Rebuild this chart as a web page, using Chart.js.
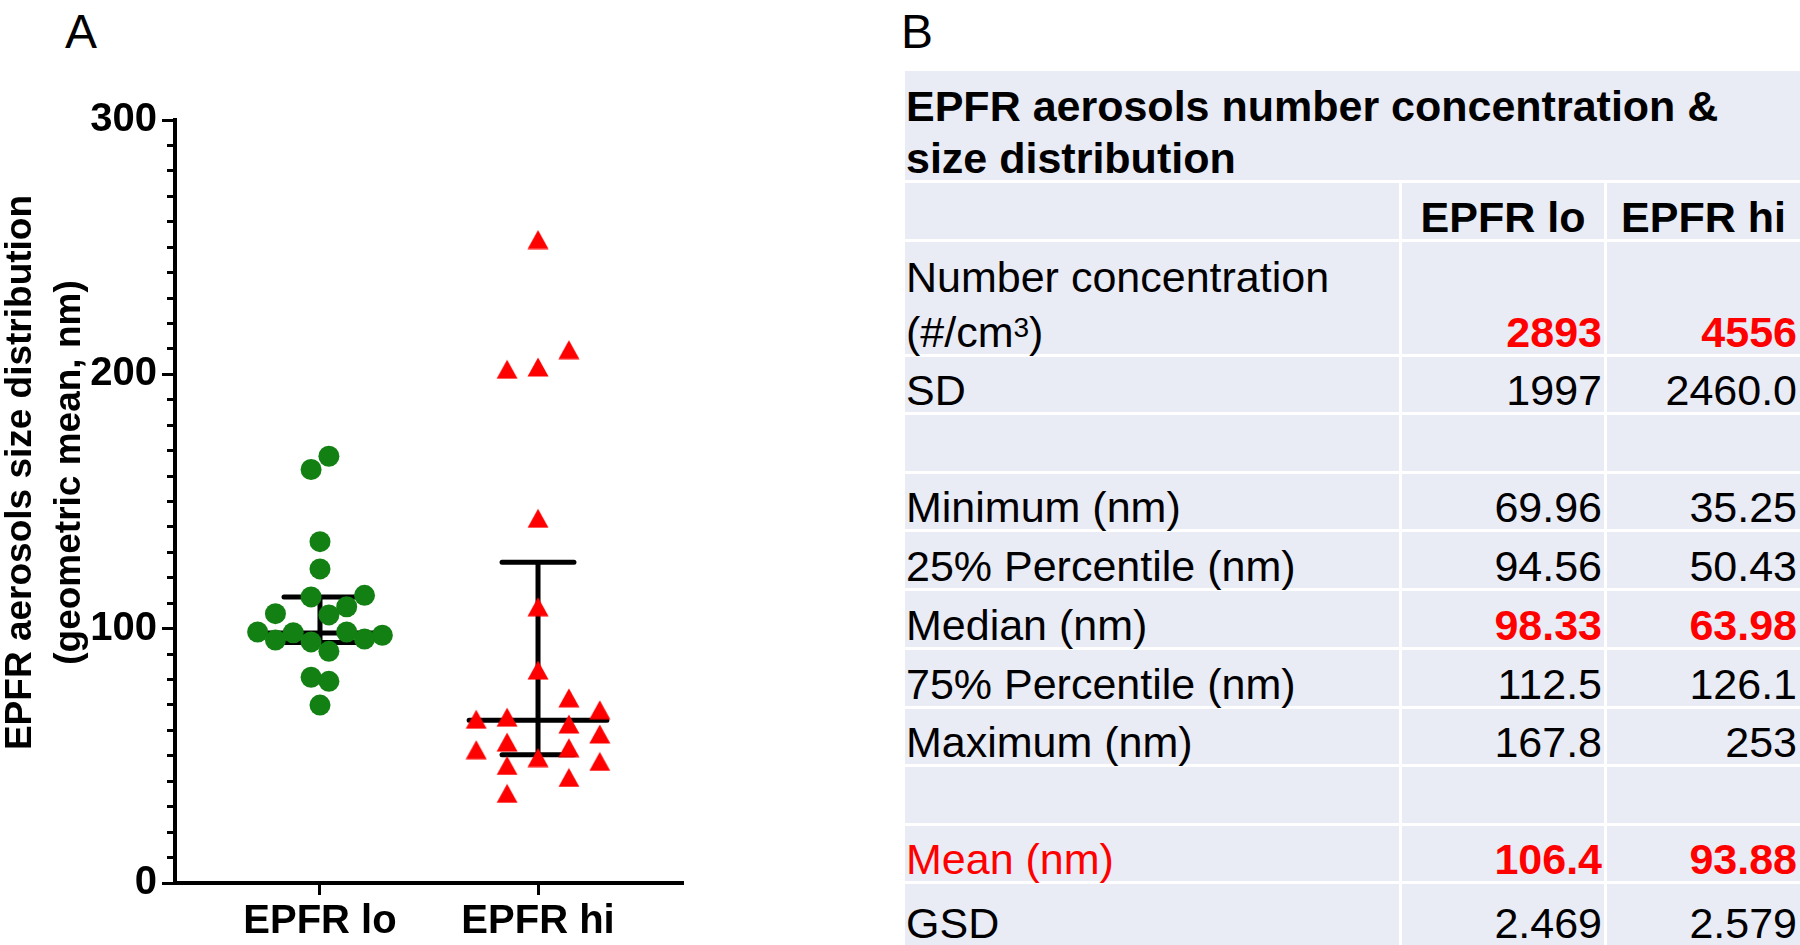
<!DOCTYPE html>
<html>
<head>
<meta charset="utf-8">
<script src="https://cdn.jsdelivr.net/npm/chart.js@4.4.1/dist/chart.umd.min.js"></script>
<style>
  body { margin: 0; background: #fff; width: 1800px; height: 945px; overflow: hidden; position: relative;
         font-family: "Liberation Sans", Arial, sans-serif; }
  .panel { position: absolute; top: 8px; font-size: 48px; line-height: 1; }
  #chart { position: absolute; left: 0; top: 0; }
  .cell { position: absolute; background: #e9ebf5; display: flex; align-items: flex-end; box-sizing: border-box;
          font-size: 43px; line-height: 1; color: #000; white-space: nowrap; }
  .lbl { padding-left: 1px; }
  .val { justify-content: flex-end; }
  .c2 { padding-right: 2px; }
  .c3 { padding-right: 3px; }
  .head { justify-content: center; font-weight: bold; }
  .hot { color: #ff0000; font-weight: bold; }
  .sup { font-size: 28px; position: relative; top: -10px; }
</style>
</head>
<body>
<div class="panel" style="left:65px">A</div>
<div class="panel" style="left:901px">B</div>
<canvas id="chart" width="700" height="945"></canvas>

<script>
// ---- panel A data ----
const groups = ['EPFR lo', 'EPFR hi'];

// EPFR lo (green circles), jitter in dot widths
const loValues = [167.8, 162.6, 134.2, 123.5, 112.5, 113.1, 108.6, 105.9, 105.4, 98.7,
                  98.4, 98.7, 97.4, 95.5, 94.8, 95.9, 91.1, 80.9, 79.3, 69.96];
const loJitter = [0.5, -0.5, 0, 0, -0.5, 2.5, 1.5, -2.5, 0.5, -3.5,
                  -1.5, 1.5, 3.5, -2.5, -0.5, 2.5, 0.5, -0.5, 0.5, 0];

// EPFR hi (red triangles)
const hiValues = [253, 209.7, 202.9, 202, 143.4, 108.6, 83.7, 72.8, 68.1, 65.2, 64.4,
                  62.5, 58.6, 55.4, 53.2, 52.4, 49.3, 47.8, 46.2, 41.5, 35.25];
const hiJitter = [0, 1, 0, -1, 0, 0, 0, 1, 2, -1, -2,
                  1, 2, -1, 1, -2, 0, 2, -1, 1, -1];

// median with interquartile range
const medians = [98.33, 63.98];
const q1 = [94.56, 50.43];
const q3 = [112.5, 126.1];

// ---- panel B data ----
const statLabels = ['Number concentration', 'SD', '', 'Minimum (nm)', '25% Percentile (nm)', 'Median (nm)',
                    '75% Percentile (nm)', 'Maximum (nm)', '', 'Mean (nm)', 'GSD'];
const statLo = ['2893', '1997', '', '69.96', '94.56', '98.33', '112.5', '167.8', '', '106.4', '2.469'];
const statHi = ['4556', '2460.0', '', '35.25', '50.43', '63.98', '126.1', '253', '', '93.88', '2.579'];
const hotRows = [0, 5, 9];

// ---- table ----
const cols = [[905, 1399], [1402, 1604], [1607, 1800]];
const rows = [[71, 180], [183, 239], [242, 354], [357, 411.5], [414.5, 470.5], [473.5, 529], [532, 588],
              [591, 647], [650, 705.5], [708.5, 764], [767, 822.5], [825.5, 881], [884, 945]];

function addCell(x0, x1, y0, y1, html, cls) {
  const d = document.createElement('div');
  d.className = 'cell ' + (cls || '');
  d.style.left = x0 + 'px';
  d.style.width = (x1 - x0) + 'px';
  d.style.top = y0 + 'px';
  d.style.height = (y1 - y0) + 'px';
  d.innerHTML = html;
  document.body.appendChild(d);
}

addCell(cols[0][0], cols[2][1], rows[0][0], rows[0][1],
  '<div style="font-weight:bold;line-height:52px;margin-bottom:-4px">EPFR aerosols number concentration &amp;<br>size distribution</div>', 'lbl');
addCell(cols[0][0], cols[0][1], rows[1][0], rows[1][1], '', 'lbl');
addCell(cols[1][0], cols[1][1], rows[1][0], rows[1][1], groups[0], 'head');
addCell(cols[2][0], cols[2][1], rows[1][0], rows[1][1], groups[1], 'head');

statLabels.forEach((lab, i) => {
  const [y0, y1] = rows[i + 2];
  const hot = hotRows.includes(i);
  let labHtml = lab;
  if (i === 0) {
    labHtml = '<div><div style="margin-bottom:12px">' + lab + '</div><div>(#/cm<span class="sup">3</span>)</div></div>';
  }
  if (i === 9) labHtml = '<span style="color:#ff0000">' + lab + '</span>';
  addCell(cols[0][0], cols[0][1], y0, y1, labHtml, 'lbl');
  addCell(cols[1][0], cols[1][1], y0, y1, hot ? '<span class="hot">' + statLo[i] + '</span>' : statLo[i], 'val c2');
  addCell(cols[2][0], cols[2][1], y0, y1, hot ? '<span class="hot">' + statHi[i] + '</span>' : statHi[i], 'val c3');
});

// ---- chart ----
Chart.defaults.font.family = "'Liberation Sans', Arial, sans-serif";
Chart.defaults.color = '#000';

const loStep = 0.0817;   // circle spacing in x units
const hiStep = 0.1417;   // triangle spacing in x units
const medHalf = 0.316;
const capHalf = 0.165;

// triangle marker centred on its bounding box
const tri = document.createElement('canvas');
tri.width = 22; tri.height = 20;
const tctx = tri.getContext('2d');
tctx.fillStyle = '#ff0000';
tctx.beginPath();
tctx.moveTo(11, 0.5);
tctx.lineTo(21.5, 19.5);
tctx.lineTo(0.5, 19.5);
tctx.closePath();
tctx.fill();

function barData(i) {
  const c = i + 1;
  return [
    {x: c - medHalf, y: medians[i]}, {x: c + medHalf, y: medians[i]}, {x: c, y: null},
    {x: c - capHalf, y: q3[i]}, {x: c + capHalf, y: q3[i]}, {x: c, y: null},
    {x: c - capHalf, y: q1[i]}, {x: c + capHalf, y: q1[i]}, {x: c, y: null},
    {x: c, y: q1[i]}, {x: c, y: q3[i]}
  ];
}

const bigFont = { size: 40, weight: 'bold' };

new Chart(document.getElementById('chart').getContext('2d'), {
  type: 'scatter',
  data: {
    datasets: [
      {
        data: loValues.map((v, i) => ({x: 1 + loJitter[i] * loStep, y: v})),
        pointStyle: 'circle',
        pointRadius: 10.5,
        pointHoverRadius: 10.5,
        pointBackgroundColor: '#128012',
        pointBorderWidth: 0,
        order: 0
      },
      {
        data: hiValues.map((v, i) => ({x: 2 + hiJitter[i] * hiStep, y: v})),
        pointStyle: tri,
        pointRadius: 10,
        pointHoverRadius: 10,
        pointBorderWidth: 0,
        order: 0
      },
      {
        type: 'line',
        data: barData(0),
        borderColor: '#000',
        borderWidth: 5,
        borderCapStyle: 'round',
        pointRadius: 0,
        spanGaps: false,
        order: 1
      },
      {
        type: 'line',
        data: barData(1),
        borderColor: '#000',
        borderWidth: 5,
        borderCapStyle: 'round',
        pointRadius: 0,
        spanGaps: false,
        order: 1
      }
    ]
  },
  options: {
    responsive: false,
    animation: false,
    devicePixelRatio: 1,
    events: [],
    layout: { padding: { left: 0, right: 17, top: 0, bottom: 0 } },
    plugins: {
      legend: { display: false },
      tooltip: { enabled: false },
      title: {
        display: true,
        position: 'left',
        text: ['EPFR aerosols size distribution', '(geometric mean, nm)'],
        font: { size: 37, weight: 'bold', lineHeight: 49 / 37 },
        color: '#000',
        padding: { top: -4, bottom: -24 }   // title box 70px wide
      },
      subtitle: {
        display: true,
        position: 'top',
        text: '',
        font: { size: 10, lineHeight: 1 },
        padding: { top: 110, bottom: 0 }
      }
    },
    scales: {
      x: {
        type: 'linear',
        min: 0.335,
        max: 2.665,
        afterBuildTicks: s => { s.ticks = groups.map((g, i) => ({ value: i + 1 })); },
        afterFit: s => { s.height = 62; },
        ticks: {
          callback: v => groups[v - 1],
          font: bigFont,
          padding: 3,
          autoSkip: false,
          maxRotation: 0
        },
        grid: { drawOnChartArea: false, tickLength: 12, tickWidth: 3, tickColor: '#000' },
        border: { color: '#000', width: 4 }
      },
      y: {
        min: 0,
        max: 300,
        afterFit: s => { s.width = 105; },
        ticks: {
          stepSize: 10,
          autoSkip: false,
          callback: v => (v % 100 === 0 ? v : ''),
          font: bigFont,
          padding: 5
        },
        grid: {
          drawOnChartArea: false,
          tickLength: 13,
          tickWidth: 3,
          tickColor: '#000',
          tickBorderDash: [11, 11],
          tickBorderDashOffset: c => (c.tick && c.tick.value % 100 === 0 ? 0 : 17)
        },
        border: { color: '#000', width: 4 }
      }
    }
  }
});
</script>
</body>
</html>
